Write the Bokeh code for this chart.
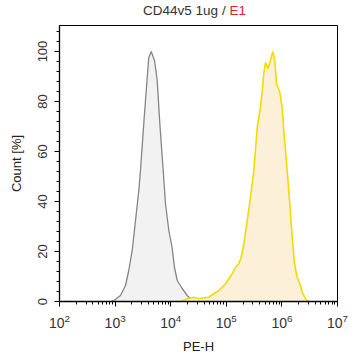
from bokeh.plotting import figure
from bokeh.models import SingleIntervalTicker, LogTicker, Range1d, Div
from bokeh.layouts import column
from bokeh.embed import file_html
from bokeh.resources import INLINE

# Control (gray) histogram: PE-H value, count %
ctrl_x = [830, 950, 1250, 1540, 1760, 2030, 2330, 2670, 2860, 3280, 3780, 4040,
          4460, 5120, 5720, 6370, 7330, 8050, 9250, 10600, 11700, 13100, 16100,
          19800, 24400, 28200]
ctrl_y = [0, 0.4, 2.4, 6.4, 12.4, 20.4, 32.4, 44.4, 52.4, 71.2, 89.6, 97.6,
          100, 96.4, 88.4, 71.2, 52.4, 39.2, 28.4, 21.6, 13.6, 8.4, 5.2, 2.4,
          0.4, 0]

# E1 (yellow) histogram
e1_x = [15000, 19800, 26000, 32000, 39400, 48400, 59600, 73300, 84300, 96800,
        111000, 128000, 146000, 168000, 185000, 207000, 238000, 272000, 313000,
        360000, 412000, 443000, 472000, 507000, 557000, 624000, 685000, 745000,
        800000, 916000, 1010000, 1080000, 1245000, 1387000, 1531000, 1687000,
        1884000, 2099000, 2317000, 2655000, 3048000]
e1_y = [0, 1.1, 1.7, 1.1, 1.5, 1.7, 3.1, 4.4, 5.7, 7.1, 9.1, 11.1, 13.7, 15.1,
        17.7, 23.1, 32.4, 41.7, 52.4, 69.7, 77.7, 84.4, 91.1, 95.7, 93.1, 96.4,
        100, 96.4, 87.1, 83.7, 77.7, 68.4, 52.4, 39.1, 25.7, 15.1, 9.7, 7.1,
        3.7, 1.1, 0]

title_main = "CD44v5 1ug / "
title_red = "E1"
x_label = "PE-H"
y_label = "Count [%]"

FONT = "Liberation Sans"

title_div = Div(
    text=('<div style="position:absolute; left:0; top:0; width:389px; '
          'text-align:center; white-space:pre; font-family:\'Liberation Sans\'; '
          'font-size:13.5px; line-height:22px; color:#333333;">'
          f'{title_main}<span style="color:#e8202a;">{title_red}</span></div>'),
    width=350, height=22, margin=(0, 0, 0, 0))

p = figure(width=350, height=335, x_axis_type="log",
           x_range=Range1d(1e2, 1e7), y_range=Range1d(0, 110.4),
           output_backend="svg", toolbar_location=None,
           min_border_left=59, min_border_right=13,
           min_border_top=3, min_border_bottom=56, margin=(0, 0, 0, 0))

p.varea(x=ctrl_x, y1=0, y2=ctrl_y, fill_color="#f2f2f2")
p.line(ctrl_x, ctrl_y, line_color="#858585", line_width=1.3)
p.varea(x=e1_x, y1=0, y2=e1_y, fill_color="#fdf0d8")
p.line(e1_x, e1_y, line_color="#f3da00", line_width=1.6)

p.xgrid.visible = False
p.ygrid.visible = False
p.outline_line_color = "black"
p.outline_line_width = 1
p.background_fill_color = "white"
p.border_fill_color = "white"

p.xaxis.ticker = LogTicker(num_minor_ticks=10)
p.yaxis.ticker = SingleIntervalTicker(interval=20, num_minor_ticks=5)

for ax in (p.xaxis[0], p.yaxis[0]):
    ax.axis_line_color = "black"
    ax.axis_line_width = 1.3
    ax.major_tick_line_color = "black"
    ax.minor_tick_line_color = "black"
    ax.major_tick_in = 0
    ax.major_tick_out = 5
    ax.minor_tick_in = 0
    ax.minor_tick_out = 3
    ax.major_label_text_font = FONT
    ax.major_label_text_color = "#333333"
    ax.axis_label_text_font = FONT
    ax.axis_label_text_font_size = "13px"
    ax.axis_label_text_font_style = "normal"
    ax.axis_label_text_color = "#222222"

p.xaxis.major_label_text_font_size = "14px"
p.yaxis.major_label_text_font_size = "13px"
p.xaxis.axis_label = x_label
p.yaxis.axis_label = y_label
p.yaxis.major_label_orientation = "vertical"
p.xaxis.major_label_standoff = 7
p.yaxis.major_label_standoff = 8
p.xaxis.axis_label_standoff = 8
p.yaxis.axis_label_standoff = 11

layout = column(title_div, p, spacing=0, margin=(0, 0, 0, 0))

open("out.html", "w").write(file_html(layout, INLINE))
